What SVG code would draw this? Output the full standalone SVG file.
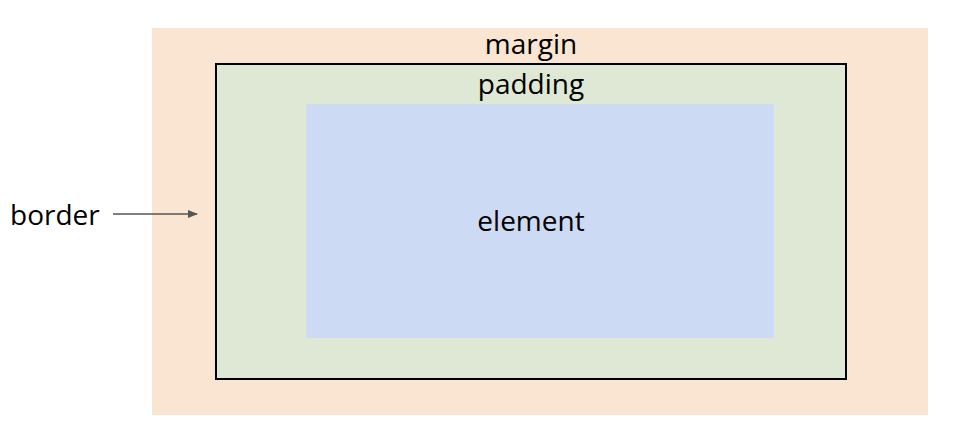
<svg xmlns="http://www.w3.org/2000/svg" width="974" height="431" viewBox="0 0 974 431">
<style>
text{font-family:"Open Sans","Noto Sans",sans-serif;font-size:28px;fill:#000}
</style>
<defs><marker id="a" markerWidth="10" markerHeight="8" refX="9" refY="4" orient="auto" markerUnits="userSpaceOnUse"><path d="M0,0L10,4L0,8z" fill="#555"/></marker></defs>
<rect width="974" height="431" fill="#fff"/>
<g id="margin"><rect x="152" y="28" width="776" height="387" fill="#f9e5d1"/><text x="531" y="54" text-anchor="middle">margin</text></g>
<g id="padding"><rect x="216" y="64" width="630" height="315" fill="#dee8d5" stroke="#000" stroke-width="2"/><text x="531" y="94" text-anchor="middle">padding</text></g>
<g id="element"><rect x="306" y="104" width="468" height="234" fill="#ccdaf4"/><text x="531" y="231" text-anchor="middle">element</text></g>
<g id="border"><text x="10" y="225">border</text></g>
<g id="connectors"><line x1="113" y1="214" x2="197" y2="214" stroke="#555" stroke-width="1.3" marker-end="url(#a)"/></g>
</svg>
